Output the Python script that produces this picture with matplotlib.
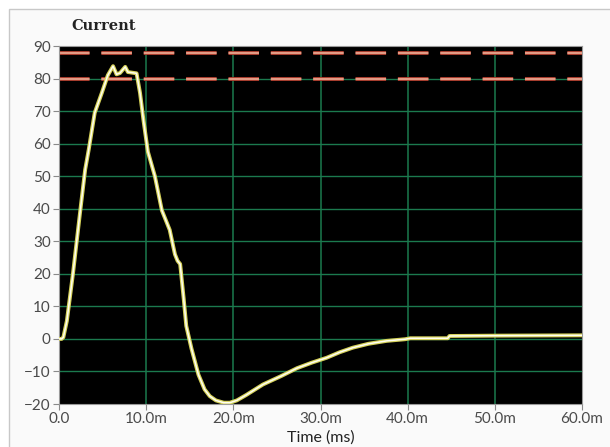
import matplotlib
matplotlib.use("Agg")
import matplotlib.pyplot as plt
from matplotlib.patches import Rectangle

# current waveform (time in ms, current in A)
t_ms = [0.0, 0.3, 0.5, 0.9, 1.6, 2.4, 3.0, 3.4, 4.1, 4.9, 5.6, 6.2, 6.6,
        7.0, 7.6, 7.9, 8.4, 8.9, 9.3, 9.7, 10.2, 11.0, 11.8, 12.7, 13.3,
        13.6, 13.9, 14.3, 14.6, 15.2, 16.0, 16.7, 17.3, 18.0, 18.9, 19.6,
        20.4, 21.5, 23.4, 25.5, 27.3, 29.0, 30.7, 32.2, 33.7, 35.5, 37.6,
        39.7, 40.3, 44.6, 44.8, 50.0, 60.0]
current = [0.0, 0.0, 0.5, 5.5, 20.0, 38.5, 52.0, 58.0, 69.5, 75.5, 81.0,
           83.8, 81.3, 81.7, 83.6, 82.0, 81.8, 81.6, 75.5, 67.0, 57.5, 50.0,
           39.5, 33.5, 26.0, 24.0, 23.0, 12.5, 4.0, -3.0, -11.0, -15.5,
           -17.6, -18.9, -19.6, -19.6, -18.9, -17.2, -14.0, -11.4, -9.0,
           -7.3, -5.8, -4.1, -2.7, -1.5, -0.6, -0.1, 0.2, 0.2, 0.9, 1.0, 1.1]

limits = [80, 88]
xticks = [0, 10, 20, 30, 40, 50, 60]
xlabels = ["0.0", "10.0m", "20.0m", "30.0m", "40.0m", "50.0m", "60.0m"]
yticks = list(range(-20, 91, 10))

fig = plt.figure(figsize=(6.1, 4.47), dpi=100)
fig.patch.set_facecolor("white")
# light panel behind the chart
fig.patches.append(Rectangle((8.5 / 610, -0.1), 1.2, 1 - 8.5 / 447 + 0.1,
                             transform=fig.transFigure, facecolor="#fafafa",
                             edgecolor="#c8c8c8", lw=1, zorder=-10))

ax = fig.add_axes([59 / 610, 1 - 404 / 447, 523 / 610, 358 / 447])
ax.set_facecolor("black")

grid_col = "#1b7a4e"
for x in xticks[1:-1]:
    ax.axvline(x, color=grid_col, lw=1.1, zorder=1)
for y in yticks[1:-1]:
    ax.axhline(y, color=grid_col, lw=1.0, zorder=1)

# limit lines: red rim with a peach core, same dash spacing in pixels
dash_on, dash_off = 22.0, 8.5
for y in limits:
    ax.axhline(y, color="#b04030", lw=2.8,
               ls=(0, (dash_on / 2.8, dash_off / 2.8)), zorder=2)
    ax.axhline(y, color="#f2b8a0", lw=1.1,
               ls=(0, (dash_on / 1.1, dash_off / 1.1)), zorder=2)

ax.plot(t_ms, current, color="#d6d25a", lw=2.8, zorder=3,
        solid_joinstyle="round")
ax.plot(t_ms, current, color="#fffff4", lw=1.1, zorder=4,
        solid_joinstyle="round")

ax.set_xlim(0, 60)
ax.set_ylim(-20, 90)
ax.set_xticks(xticks)
ax.set_xticklabels(xlabels)
ax.set_yticks(yticks)
ax.tick_params(colors="#8a8a8a", length=4, width=0.8, labelsize=11,
               labelcolor="#4a4a4a", pad=2)
for lbl in ax.get_xticklabels() + ax.get_yticklabels():
    lbl.set_family("Lato")
for s in ax.spines.values():
    s.set_color("#9a9a9a")
    s.set_linewidth(0.8)

ax.set_xlabel("Time (ms)", fontsize=11.5, color="#222222", labelpad=3,
              family="Lato")
fig.text(71 / 610, 1 - 26 / 447, "Current", fontsize=10.5, fontweight="bold",
         family="DejaVu Serif", color="#222222", va="center", ha="left")

fig.savefig("out.png", dpi=100)
